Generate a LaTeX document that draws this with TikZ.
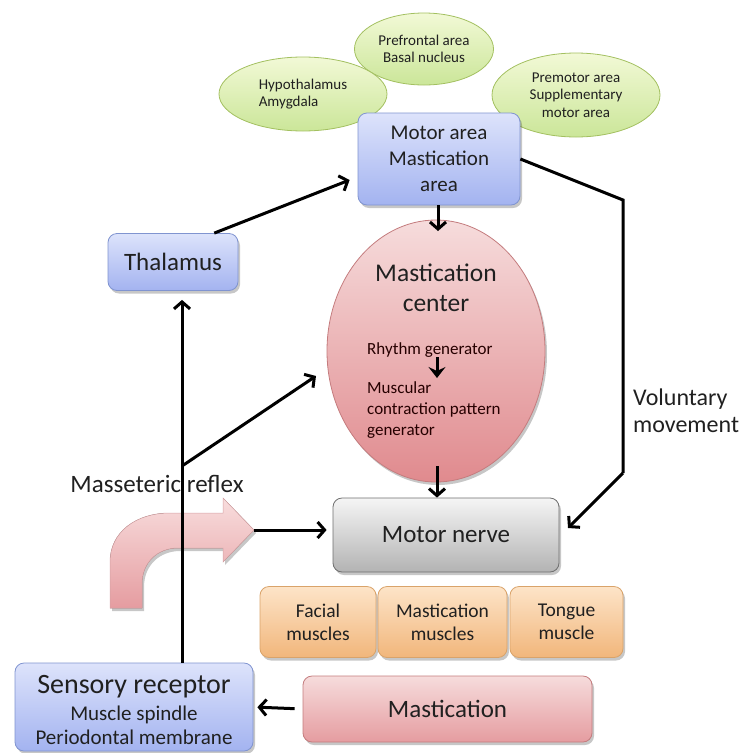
\documentclass[tikz,border=0pt]{standalone}
\usepackage{fontspec}
\setmainfont{Carlito}
\usetikzlibrary{shapes.geometric,arrows.meta,shadows,calc}
\definecolor{txt}{HTML}{202020}
\definecolor{grnT}{HTML}{F2F9D6}
\definecolor{grnBt}{HTML}{CBE699}
\definecolor{grnD}{HTML}{A3C060}
\definecolor{bluT}{HTML}{DDE3FB}
\definecolor{bluBt}{HTML}{A3B3F0}
\definecolor{bluD}{HTML}{8094D0}
\definecolor{pnkT}{HTML}{F6DCDC}
\definecolor{pnkBt}{HTML}{E08A8E}
\definecolor{pnkD}{HTML}{C47C7E}
\definecolor{gryT}{HTML}{F5F5F5}
\definecolor{gryBt}{HTML}{B3B3B3}
\definecolor{gryD}{HTML}{6F6F6F}
\definecolor{orgT}{HTML}{FDE4C8}
\definecolor{orgBt}{HTML}{F1B67B}
\definecolor{orgD}{HTML}{D9A36A}
\definecolor{hookT}{HTML}{F8DDDD}
\definecolor{hookBt}{HTML}{E59CA0}
\tikzset{
  shade/.style={drop shadow={shadow xshift=2pt,shadow yshift=-3pt,opacity=0.22,fill=black}},
  greenell/.style={ellipse, draw=grnD, line width=0.8pt, top color=grnT, bottom color=grnBt,
    inner sep=0pt, text=txt, align=center, font=\fontsize{15}{17.5}\selectfont},
  bluebox/.style={rectangle, rounded corners=9pt, draw=bluD, line width=0.8pt,
    top color=bluT, bottom color=bluBt, inner sep=0pt, text=txt, align=center, shade},
  orgbox/.style={rectangle, rounded corners=9pt, draw=orgD, line width=0.8pt,
    top color=orgT, bottom color=orgBt, inner sep=0pt, text=txt, align=center,
    font=\fontsize{19.5}{23}\selectfont, shade},
  lbl/.style={inner sep=0pt, text=txt},
  arr/.style={line width=3pt, draw=black, -{Straight Barb[length=7pt,width=16pt]}},
}
\begin{document}
\begin{tikzpicture}[x=1pt,y=-1pt]
\useasboundingbox (0,0) rectangle (749,753);

% top ellipses
\node[greenell, minimum width=139pt, minimum height=72pt] (pref) at (424,49)
  {Prefrontal area\\Basal nucleus};
\node[greenell, minimum width=168pt, minimum height=74pt, align=left] (hypo) at (303,94)
  {Hypothalamus\\Amygdala};
\node[greenell, minimum width=168pt, minimum height=84pt] (prem) at (576,95)
  {Premotor area\\Supplementary\\motor area};

% motor area
\node[bluebox, minimum width=162pt, minimum height=92pt, font=\fontsize{21}{26}\selectfont] (motor) at (439,159)
  {Motor area\\Mastication\\area};

% thalamus
\node[bluebox, minimum width=130pt, minimum height=57pt, font=\fontsize{25}{28}\selectfont] (thal) at (173,262)
  {Thalamus};

% mastication center
\node[ellipse, draw=pnkD, line width=0.8pt, top color=pnkT, bottom color=pnkBt,
  minimum width=218pt, minimum height=262pt, inner sep=0pt, shade] (mcen) at (436,351) {};
\node[lbl, align=center, font=\fontsize{25.5}{30}\selectfont] (mtitle) at (436,288)
  {Mastication\\center};
\node[lbl, anchor=west, font=\fontsize{17}{20}\selectfont, text=black!85!red] (rhy) at (367,350)
  {Rhythm generator};
\node[lbl, anchor=north west, align=left, font=\fontsize{17}{21}\selectfont, text=black!85!red] (mcp) at (367,381)
  {Muscular\\contraction pattern\\generator};
\draw[line width=3pt, -{Stealth[length=11pt,width=17pt,inset=4pt]}] (437,357) -- (437,378);

% motor nerve
\node[rectangle, rounded corners=9pt, draw=gryD, line width=0.8pt, top color=gryT, bottom color=gryBt,
  minimum width=226pt, minimum height=74pt, inner sep=0pt, text=txt, shade,
  font=\fontsize{25}{28}\selectfont] (mnerve) at (446,535) {Motor nerve};

% voluntary movement
\node[lbl, anchor=west, align=left, font=\fontsize{24}{27}\selectfont] (vol) at (633,411)
  {Voluntary\\movement};

% muscles
\node[orgbox, minimum width=116pt, minimum height=71pt] (fac) at (318,622) {Facial\\muscles};
\node[orgbox, minimum width=129pt, minimum height=71pt] (mmus) at (442.5,622) {Mastication\\muscles};
\node[orgbox, minimum width=113pt, minimum height=71pt] (tong) at (566.5,622) {Tongue\\muscle};

% mastication
\node[rectangle, rounded corners=9pt, draw=pnkD, line width=0.8pt, top color=pnkT, bottom color=hookBt,
  minimum width=289pt, minimum height=66pt, inner sep=0pt, text=txt, shade,
  font=\fontsize{25}{28}\selectfont] (mast) at (447.5,709) {Mastication};

% sensory receptor
\node[bluebox, minimum width=238pt, minimum height=88pt] (sens) at (134,707) {};
\node[lbl, font=\fontsize{28}{30}\selectfont] (sens1) at (134,687) {Sensory receptor};
\node[lbl, font=\fontsize{21}{23}\selectfont] (sens2) at (134,715) {Muscle spindle};
\node[lbl, font=\fontsize{21}{23}\selectfont] (sens3) at (134,737) {Periodontal membrane};

% masseteric reflex
\node[lbl, font=\fontsize{25}{28}\selectfont] (mref) at (157,484) {Masseteric reflex};

% hooked arrow
\fill[top color=hookT, bottom color=hookBt, draw=pnkD!70, line width=0.5pt, shade]
  (110,608) -- (110,562) .. controls (110,532) and (136,513) .. (170,513) -- (223,513)
  -- (223,498) -- (254,530) -- (223,562) -- (223,548) -- (178,548)
  .. controls (158,548) and (142,562) .. (142,584) -- (142,608) -- cycle;
\coordinate (htip) at (254,530);

% connectors
\coordinate (jn) at (182,466);
\coordinate (brt) at (316,376);
\draw[line width=3pt] (sens.north -| jn) -- (jn);
\draw[arr, shorten >=9pt] (jn) -- (jn |- thal.south);
\draw[arr] (jn) -- (brt);
\draw[arr] (thal.35) -- ($(motor.west)+(-8,21)$);
\draw[arr, shorten >=-2pt] (motor.south -| 438,0) -- (438,229);
\draw[arr] ($(mcen.south)+(1,-16)$) -- ($(mcen.south |- mnerve.north)+(1,0)$);
\coordinate (v1) at (623,200);
\coordinate (v2) at (623,473);
\coordinate (v3) at (568,528);
\draw[line width=3pt] (motor.east) -- (v1) -- (v2);
\draw[arr] (v2) -- (v3);
\draw[arr, shorten >=6pt] (htip) -- (htip -| mnerve.west);
\draw[arr, shorten <=8pt, shorten >=4pt] (mast.west) -- (sens.east);
\end{tikzpicture}
\end{document}
